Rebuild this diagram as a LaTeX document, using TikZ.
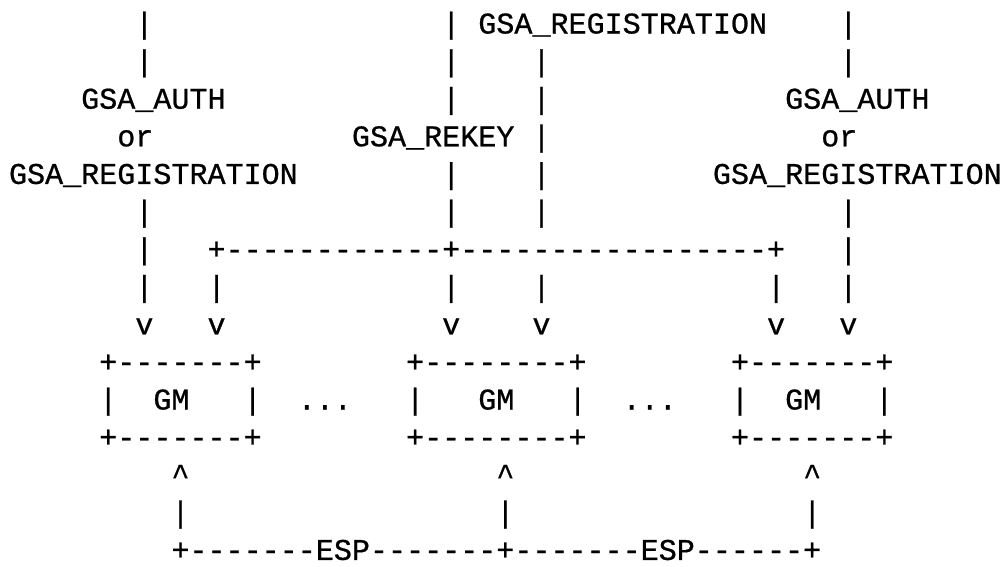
\documentclass[tikz,border=0pt]{standalone}
\usepackage{fontspec}
\setmonofont[FakeBold=0.7]{Liberation Mono}
\tikzset{
  txt/.style={anchor=base west, inner sep=0pt, outer sep=0pt, text=black,
    font=\ttfamily\fontsize{30.08}{36}\selectfont}
}
% row, column, text
\newcommand\putcell[3]{\node[txt] (r#1c#2) at ({9+#2*18.05},{-33.5-(#1-1)*37.6}) {#3};}
\begin{document}
\begin{tikzpicture}[x=1pt,y=1pt]
\useasboundingbox[fill=white] (0,0) rectangle (1005,-566);
% row 1
\putcell{1}{7}{|}\putcell{1}{24}{|}\putcell{1}{26}{GSA\_REGISTRATION}\putcell{1}{46}{|}
% row 2
\putcell{2}{7}{|}\putcell{2}{24}{|}\putcell{2}{29}{|}\putcell{2}{46}{|}
% row 3
\putcell{3}{4}{GSA\_AUTH}\putcell{3}{24}{|}\putcell{3}{29}{|}\putcell{3}{43}{GSA\_AUTH}
% row 4
\putcell{4}{6}{or}\putcell{4}{19}{GSA\_REKEY}\putcell{4}{29}{|}\putcell{4}{45}{or}
% row 5
\putcell{5}{0}{GSA\_REGISTRATION}\putcell{5}{24}{|}\putcell{5}{29}{|}\putcell{5}{39}{GSA\_REGISTRATION}
% row 6
\putcell{6}{7}{|}\putcell{6}{24}{|}\putcell{6}{29}{|}\putcell{6}{46}{|}
% row 7
\putcell{7}{7}{|}\putcell{7}{11}{+------------+-----------------+}\putcell{7}{46}{|}
% row 8
\putcell{8}{7}{|}\putcell{8}{11}{|}\putcell{8}{24}{|}\putcell{8}{29}{|}\putcell{8}{42}{|}\putcell{8}{46}{|}
% row 9
\putcell{9}{7}{v}\putcell{9}{11}{v}\putcell{9}{24}{v}\putcell{9}{29}{v}\putcell{9}{42}{v}\putcell{9}{46}{v}
% row 10
\putcell{10}{5}{+-------+}\putcell{10}{22}{+--------+}\putcell{10}{40}{+-------+}
% row 11
\putcell{11}{5}{|}\putcell{11}{8}{GM}\putcell{11}{13}{|}\putcell{11}{16}{...}
\putcell{11}{22}{|}\putcell{11}{26}{GM}\putcell{11}{31}{|}\putcell{11}{34}{...}
\putcell{11}{40}{|}\putcell{11}{43}{GM}\putcell{11}{48}{|}
% row 12
\putcell{12}{5}{+-------+}\putcell{12}{22}{+--------+}\putcell{12}{40}{+-------+}
% row 13
\putcell{13}{9}{\textasciicircum}\putcell{13}{27}{\textasciicircum}\putcell{13}{44}{\textasciicircum}
% row 14
\putcell{14}{9}{|}\putcell{14}{27}{|}\putcell{14}{44}{|}
% row 15
\putcell{15}{9}{+-------ESP-------+-------ESP------+}
\end{tikzpicture}
\end{document}
